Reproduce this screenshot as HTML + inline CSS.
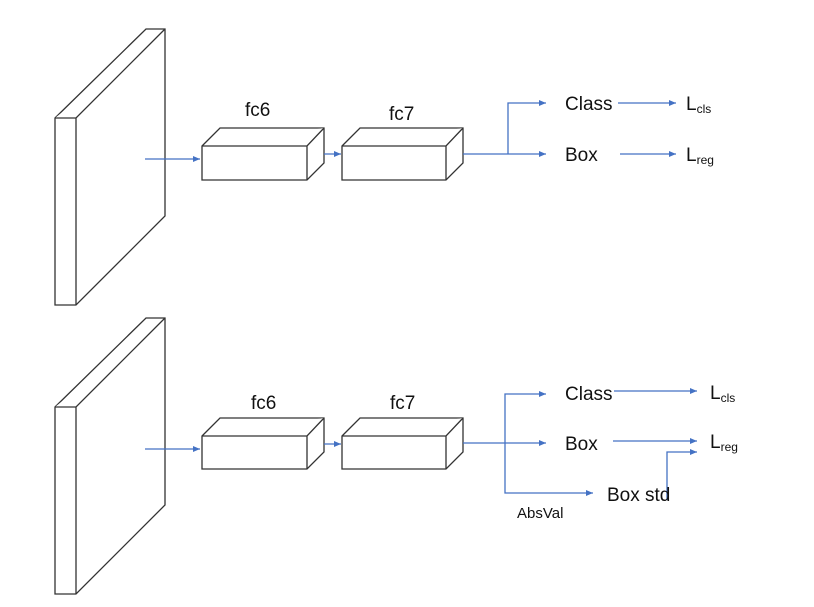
<!DOCTYPE html>
<html><head><style>body{margin:0;background:#fff}svg{display:block}text{font-family:"Liberation Sans",sans-serif;fill:#111}</style></head><body>
<svg width="814" height="607" viewBox="0 0 814 607" xmlns="http://www.w3.org/2000/svg">
<defs><marker id="a" markerWidth="8" markerHeight="8" refX="7" refY="4" orient="auto" markerUnits="userSpaceOnUse"><path d="M0,1 L7,4 L0,7z" fill="#4472c4"/></marker></defs>
<g fill="#fff" stroke="#333" stroke-width="1.3">
<!-- top -->
<path d="M55,118 L146,29 L165,29 L165,216 L76,305 L55,305z"/><path d="M55,118 L76,118 L165,29 M76,118 L76,305"/>
<path d="M202,146 L220,128 L324,128 L324,163 L307,180 L202,180z"/><path d="M202,146 L307,146 L324,128 M307,146 L307,180"/>
<path d="M342,146 L360,128 L463,128 L463,163 L446,180 L342,180z"/><path d="M342,146 L446,146 L463,128 M446,146 L446,180"/>
<!-- bottom -->
<path d="M55,407 L146,318 L165,318 L165,505 L76,594 L55,594z"/><path d="M55,407 L76,407 L165,318 M76,407 L76,594"/>
<path d="M202,436 L220,418 L324,418 L324,452 L307,469 L202,469z"/><path d="M202,436 L307,436 L324,418 M307,436 L307,469"/>
<path d="M342,436 L360,418 L463,418 L463,452 L446,469 L342,469z"/><path d="M342,436 L446,436 L463,418 M446,436 L446,469"/>
</g>
<g stroke="#4472c4" stroke-width="1.3" fill="none">
<line x1="145" y1="159" x2="200" y2="159" marker-end="url(#a)"/>
<line x1="324" y1="154" x2="341" y2="154" marker-end="url(#a)"/>
<path d="M463,154 L508,154"/><path d="M508,154 L508,103 L546,103" marker-end="url(#a)"/><line x1="508" y1="154" x2="546" y2="154" marker-end="url(#a)"/>
<line x1="618" y1="103" x2="676" y2="103" marker-end="url(#a)"/>
<line x1="620" y1="154" x2="676" y2="154" marker-end="url(#a)"/>
<line x1="145" y1="449" x2="200" y2="449" marker-end="url(#a)"/>
<line x1="324" y1="444" x2="341" y2="444" marker-end="url(#a)"/>
<path d="M463,443 L505,443"/><path d="M505,443 L505,394 L546,394" marker-end="url(#a)"/><line x1="505" y1="443" x2="546" y2="443" marker-end="url(#a)"/>
<path d="M505,443 L505,493 L593,493" marker-end="url(#a)"/>
<line x1="614" y1="391" x2="697" y2="391" marker-end="url(#a)"/>
<line x1="613" y1="441" x2="697" y2="441" marker-end="url(#a)"/>
<path d="M667,500 L667,452 L697,452" marker-end="url(#a)"/>
</g>
<g font-size="19">
<text x="245" y="116">fc6</text><text x="389" y="120">fc7</text>
<text x="565" y="110">Class</text><text x="565" y="161">Box</text>
<text x="686" y="110">L<tspan font-size="12" dy="3">cls</tspan></text>
<text x="686" y="161">L<tspan font-size="12" dy="3">reg</tspan></text>
<text x="251" y="409">fc6</text><text x="390" y="409">fc7</text>
<text x="565" y="400">Class</text><text x="565" y="450">Box</text>
<text x="710" y="399">L<tspan font-size="12" dy="3">cls</tspan></text>
<text x="710" y="448">L<tspan font-size="12" dy="3">reg</tspan></text>
<text x="607" y="501">Box std</text>
<text x="517" y="518" font-size="15">AbsVal</text>
</g>
</svg>
</body></html>
